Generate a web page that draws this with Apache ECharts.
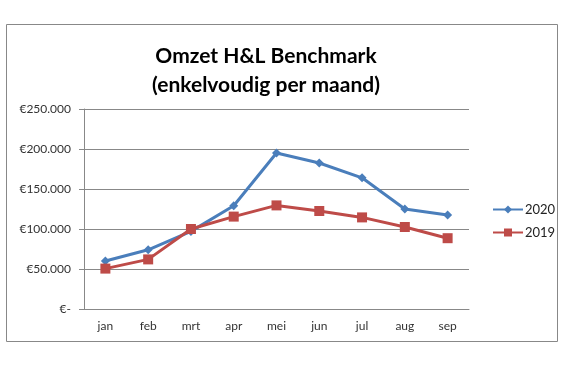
<!DOCTYPE html>
<html>
<head>
<meta charset="utf-8">
<script src="https://cdn.jsdelivr.net/npm/echarts@6/dist/echarts.min.js"></script>
<style>
  html, body { margin: 0; padding: 0; background: #fff; }
  #chart { width: 567px; height: 378px; }
</style>
</head>
<body>
<div id="chart"></div>
<script>
var months = ['jan', 'feb', 'mrt', 'apr', 'mei', 'jun', 'jul', 'aug', 'sep'];
var omzet2020 = [60000, 74000, 97000, 129000, 195000, 182500, 164000, 125000, 117500];
var omzet2019 = [50500, 62000, 100000, 115500, 129500, 122500, 114500, 102500, 88500];

function euro(v) {
    if (v === 0) return '€-';
    return '€' + String(v).replace(/\B(?=(\d{3})+(?!\d))/g, '.');
}

var myChart = echarts.init(document.getElementById('chart'));
var option = {
    animation: false,
    title: {
        text: 'Omzet H&L Benchmark\n(enkelvoudig per maand)',
        left: 261,
        textAlign: 'center',
        top: 37,
        textStyle: {
            fontFamily: 'Lato',
            fontWeight: 'bold',
            fontSize: 21,
            lineHeight: 29,
            color: '#000'
        }
    },
    graphic: [{
        type: 'rect',
        shape: { x: 6.5, y: 24.5, width: 551, height: 317 },
        style: { fill: 'none', stroke: '#888', lineWidth: 1 },
        silent: true
    }],
    legend: {
        orient: 'vertical',
        left: 487,
        top: 198,
        itemWidth: 30,
        itemHeight: 10,
        itemGap: 10,
        textStyle: { fontFamily: 'Lato', fontSize: 13, color: '#222', padding: [0, 0, 0, -3] },
        data: ['2020', '2019']
    },
    grid: { left: 84, right: 98, top: 109, bottom: 69 },
    xAxis: {
        type: 'category',
        data: months,
        boundaryGap: true,
        axisLine: { lineStyle: { color: '#888' } },
        axisTick: { length: 4, lineStyle: { color: '#888' } },
        axisLabel: { fontFamily: 'Lato', fontSize: 12, color: '#333', margin: 11 }
    },
    yAxis: {
        type: 'value',
        min: 0,
        max: 250000,
        interval: 50000,
        axisLine: { show: true, lineStyle: { color: '#888' } },
        axisTick: { show: true, length: 5, lineStyle: { color: '#888' } },
        splitLine: { lineStyle: { color: '#888' } },
        axisLabel: { fontFamily: 'Lato', fontSize: 12, color: '#333', margin: 13, formatter: euro }
    },
    series: [{
        name: '2020',
        type: 'line',
        data: omzet2020,
        symbol: 'diamond',
        symbolSize: 9,
        lineStyle: { width: 3, color: '#4A7EBB' },
        itemStyle: { color: '#4A7EBB' }
    }, {
        name: '2019',
        type: 'line',
        data: omzet2019,
        symbol: 'rect',
        symbolSize: 10,
        lineStyle: { width: 3, color: '#BE4B48' },
        itemStyle: { color: '#BE4B48' }
    }]
};
myChart.setOption(option);
</script>
</body>
</html>
